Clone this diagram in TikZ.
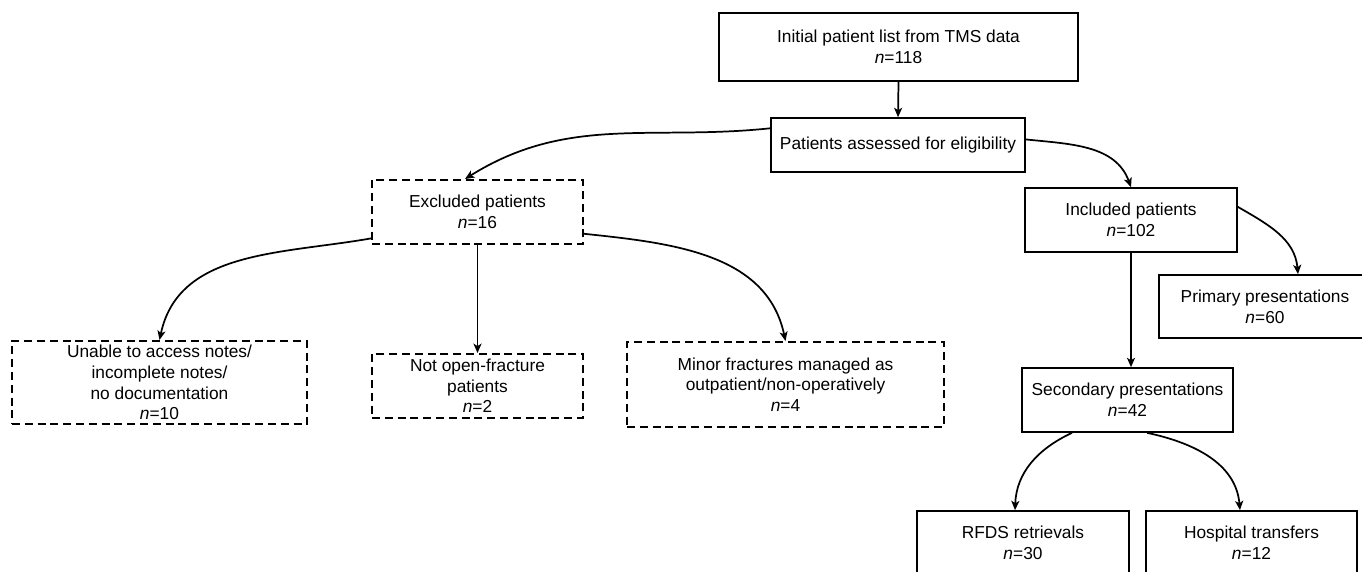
\documentclass[tikz,border=0pt]{standalone}
\usepackage{fontspec}
\setmainfont{Liberation Sans}
\usetikzlibrary{arrows.meta,calc}
\begin{document}
\begin{tikzpicture}[x=0.75pt,y=-0.75pt,
  sz/.style 2 args={minimum width=#1*0.75pt, minimum height=#2*0.75pt},
  box/.style={draw, line width=1.25pt, align=center, inner sep=0pt, text=black,
              font=\fontsize{13}{15.5}\selectfont},
  dbox/.style={box, dash pattern=on 6pt off 3.6pt, line width=1.5pt},
  arr/.style={-{Stealth[length=7pt,width=6pt,inset=1.8pt]}, line width=1.3pt}]
\clip (0,0) rectangle (1362,571);
\fill[white] (0,0) rectangle (1362,571);

\node[box, sz={359}{68}] (init) at (898.5,47) {Initial patient list from TMS data\\\textit{n}=118};
\node[box, sz={254}{54}] (assess) at (898,145) {Patients assessed for eligibility};
\node[dbox, sz={211}{64}] (excl) at (477.5,212) {Excluded patients\\\textit{n}=16};
\node[box, sz={212}{64}] (incl) at (1131,220) {Included patients\\\textit{n}=102};
\node[box, sz={212}{63}] (prim) at (1265,306.5) {Primary presentations\\\textit{n}=60};
\node[box, sz={211}{64}] (sec) at (1127.5,400) {Secondary presentations\\\textit{n}=42};
\node[dbox, sz={295}{83}] (unable) at (159.5,382.5) {Unable to access notes/\\incomplete notes/\\no documentation\\\textit{n}=10};
\node[dbox, sz={211}{64}] (notopen) at (477.5,386) {Not open-fracture\\patients\\\textit{n}=2};
\node[dbox, sz={317}{85}] (minor) at (785.5,384.5) {Minor fractures managed as\\outpatient/non-operatively\\\textit{n}=4};
\node[box, sz={212}{64}] (rfds) at (1023,543) {RFDS retrievals\\\textit{n}=30};
\node[box, sz={211}{64}] (hosp) at (1251.5,543) {Hospital transfers\\\textit{n}=12};

\draw[arr] (init.south) -- (assess.north);
\coordinate (aw) at ($(assess.north west)!0.2!(assess.south west)$);
\coordinate (ae) at ($(assess.north east)!0.4!(assess.south east)$);
\coordinate (exin) at ($(excl.north)+(-12.5,0)$);
\draw[arr] (aw) to[out=186,in=32] (exin);
\draw[arr] (ae) to[out=-6,in=110] (incl.north);

\coordinate (ew) at ($(excl.north west)!0.9!(excl.south west)$);
\coordinate (ee) at ($(excl.north east)!0.83!(excl.south east)$);
\draw[arr] (ew) to[out=190,in=78] (unable.north);
\draw[arr] (excl.south) -- (notopen.north);
\draw[arr] (ee) to[out=-6,in=102] (minor.north);

\coordinate (ie) at ($(incl.north east)!0.3!(incl.south east)$);
\coordinate (pin) at ($(prim.north)+(33,0)$);
\draw[arr] (ie) to[out=-30,in=95] (pin);
\draw[arr] (incl.south) -- (incl.south |- sec.north);

\coordinate (s1) at ($(sec.south)+(-55.5,0)$);
\coordinate (s2) at ($(sec.south)+(19.5,0)$);
\coordinate (rin) at ($(rfds.north)+(-8,0)$);
\coordinate (hin) at ($(hosp.north)+(-11.5,0)$);
\draw[arr] (s1) to[out=205,in=88] (rin);
\draw[arr] (s2) to[out=-12,in=95] (hin);
\end{tikzpicture}
\end{document}
